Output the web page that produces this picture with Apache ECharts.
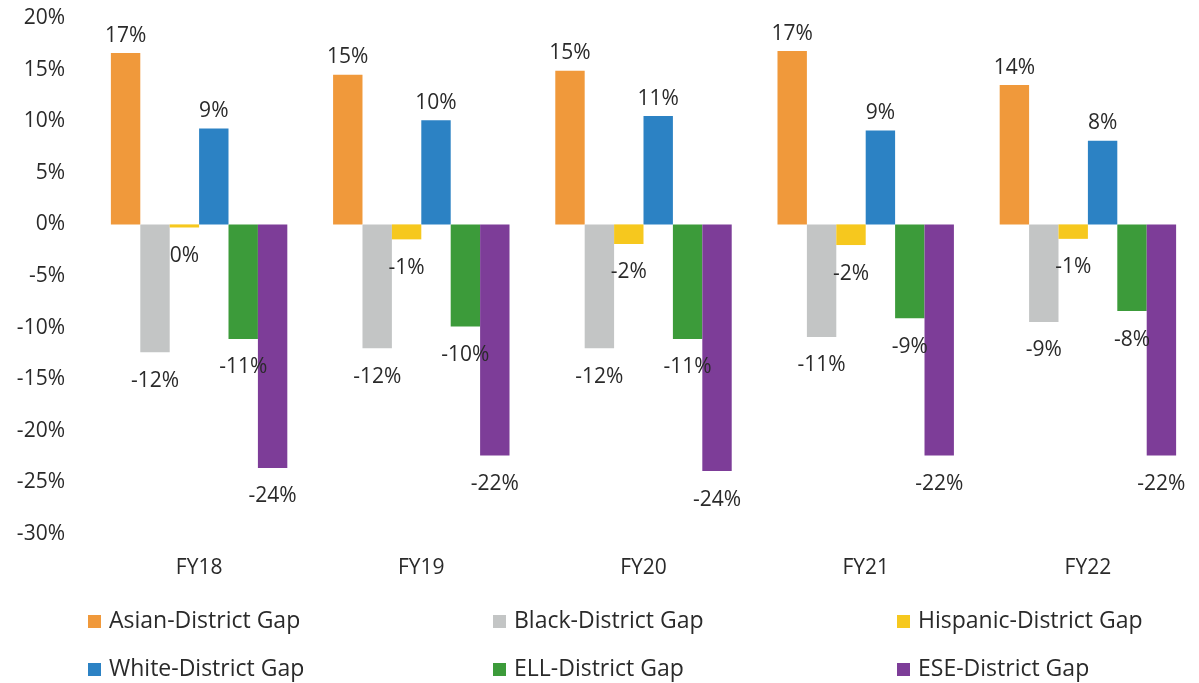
<!DOCTYPE html>
<html>
<head>
<meta charset="utf-8">
<script src="https://cdn.jsdelivr.net/npm/echarts@6/dist/echarts.min.js"></script>
<style>
  html, body { margin: 0; padding: 0; background: #fff; }
  #chart { width: 1199px; height: 683px; }
</style>
</head>
<body>
<div id="chart"></div>
<script>
// fiscal years on the x axis
var years = ['FY18', 'FY19', 'FY20', 'FY21', 'FY22'];

// gap to district, in percent
var asianGap    = [16.6, 14.5, 14.9, 16.8, 13.5];
var blackGap    = [-12.4, -12.0, -12.0, -10.9, -9.45];
var hispanicGap = [-0.3, -1.45, -1.9, -2.0, -1.4];
var whiteGap    = [9.3, 10.1, 10.5, 9.1, 8.1];
var ellGap      = [-11.1, -9.9, -11.1, -9.1, -8.4];
var eseGap      = [-23.6, -22.4, -23.9, -22.4, -22.4];

var seriesNames = ['Asian-District Gap', 'Black-District Gap', 'Hispanic-District Gap',
                   'White-District Gap', 'ELL-District Gap', 'ESE-District Gap'];
var seriesData = [asianGap, blackGap, hispanicGap, whiteGap, ellGap, eseGap];
var colors = ['#F0993B', '#C3C5C5', '#F6C81E', '#2C82C4', '#3C9B3A', '#7D3D98'];

var font = '"Open Sans", sans-serif';
var textColor = '#2a2a2a';

var chart = echarts.init(document.getElementById('chart'));

// legend laid out in 3 columns x 2 rows
var legendCols = [83, 488, 892];
var legendRows = [605, 653];

var option = {
    backgroundColor: '#fff',
    animation: false,
    color: colors,
    grid: { left: 88, right: -4, top: 18, bottom: 149, containLabel: false },
    legend: seriesNames.map(function (n, i) {
        return {
            data: [n],
            left: legendCols[i % 3],
            top: legendRows[Math.floor(i / 3)],
            itemWidth: 13,
            itemHeight: 13,
            icon: 'rect',
            textStyle: { fontFamily: font, fontSize: 23, color: textColor, padding: [0, 0, 0, 3] }
        };
    }),
    xAxis: {
        type: 'category',
        data: years,
        axisLine: { show: false },
        axisTick: { show: false },
        axisLabel: { fontFamily: font, fontSize: 21, color: textColor, margin: 24 }
    },
    yAxis: {
        type: 'value',
        min: -30,
        max: 20,
        interval: 5,
        splitLine: { show: false },
        axisLine: { show: false },
        axisTick: { show: false },
        axisLabel: {
            fontFamily: font, fontSize: 21, color: textColor, margin: 23,
            formatter: function (v) { return v + '%'; }
        }
    },
    series: seriesNames.map(function (n, i) {
        return {
            name: n,
            type: 'bar',
            barGap: 0,
            barCategoryGap: '20.6%',
            data: seriesData[i].map(function (v) {
                return {
                    value: v,
                    label: v < 0 ? { position: 'bottom', distance: 18 } : { position: 'top', distance: 7 }
                };
            }),
            label: {
                show: true,
                fontFamily: font,
                fontSize: 21,
                color: textColor,
                formatter: function (p) { return Math.round(p.value) + '%'; }
            }
        };
    })
};

chart.setOption(option);
</script>
</body>
</html>
